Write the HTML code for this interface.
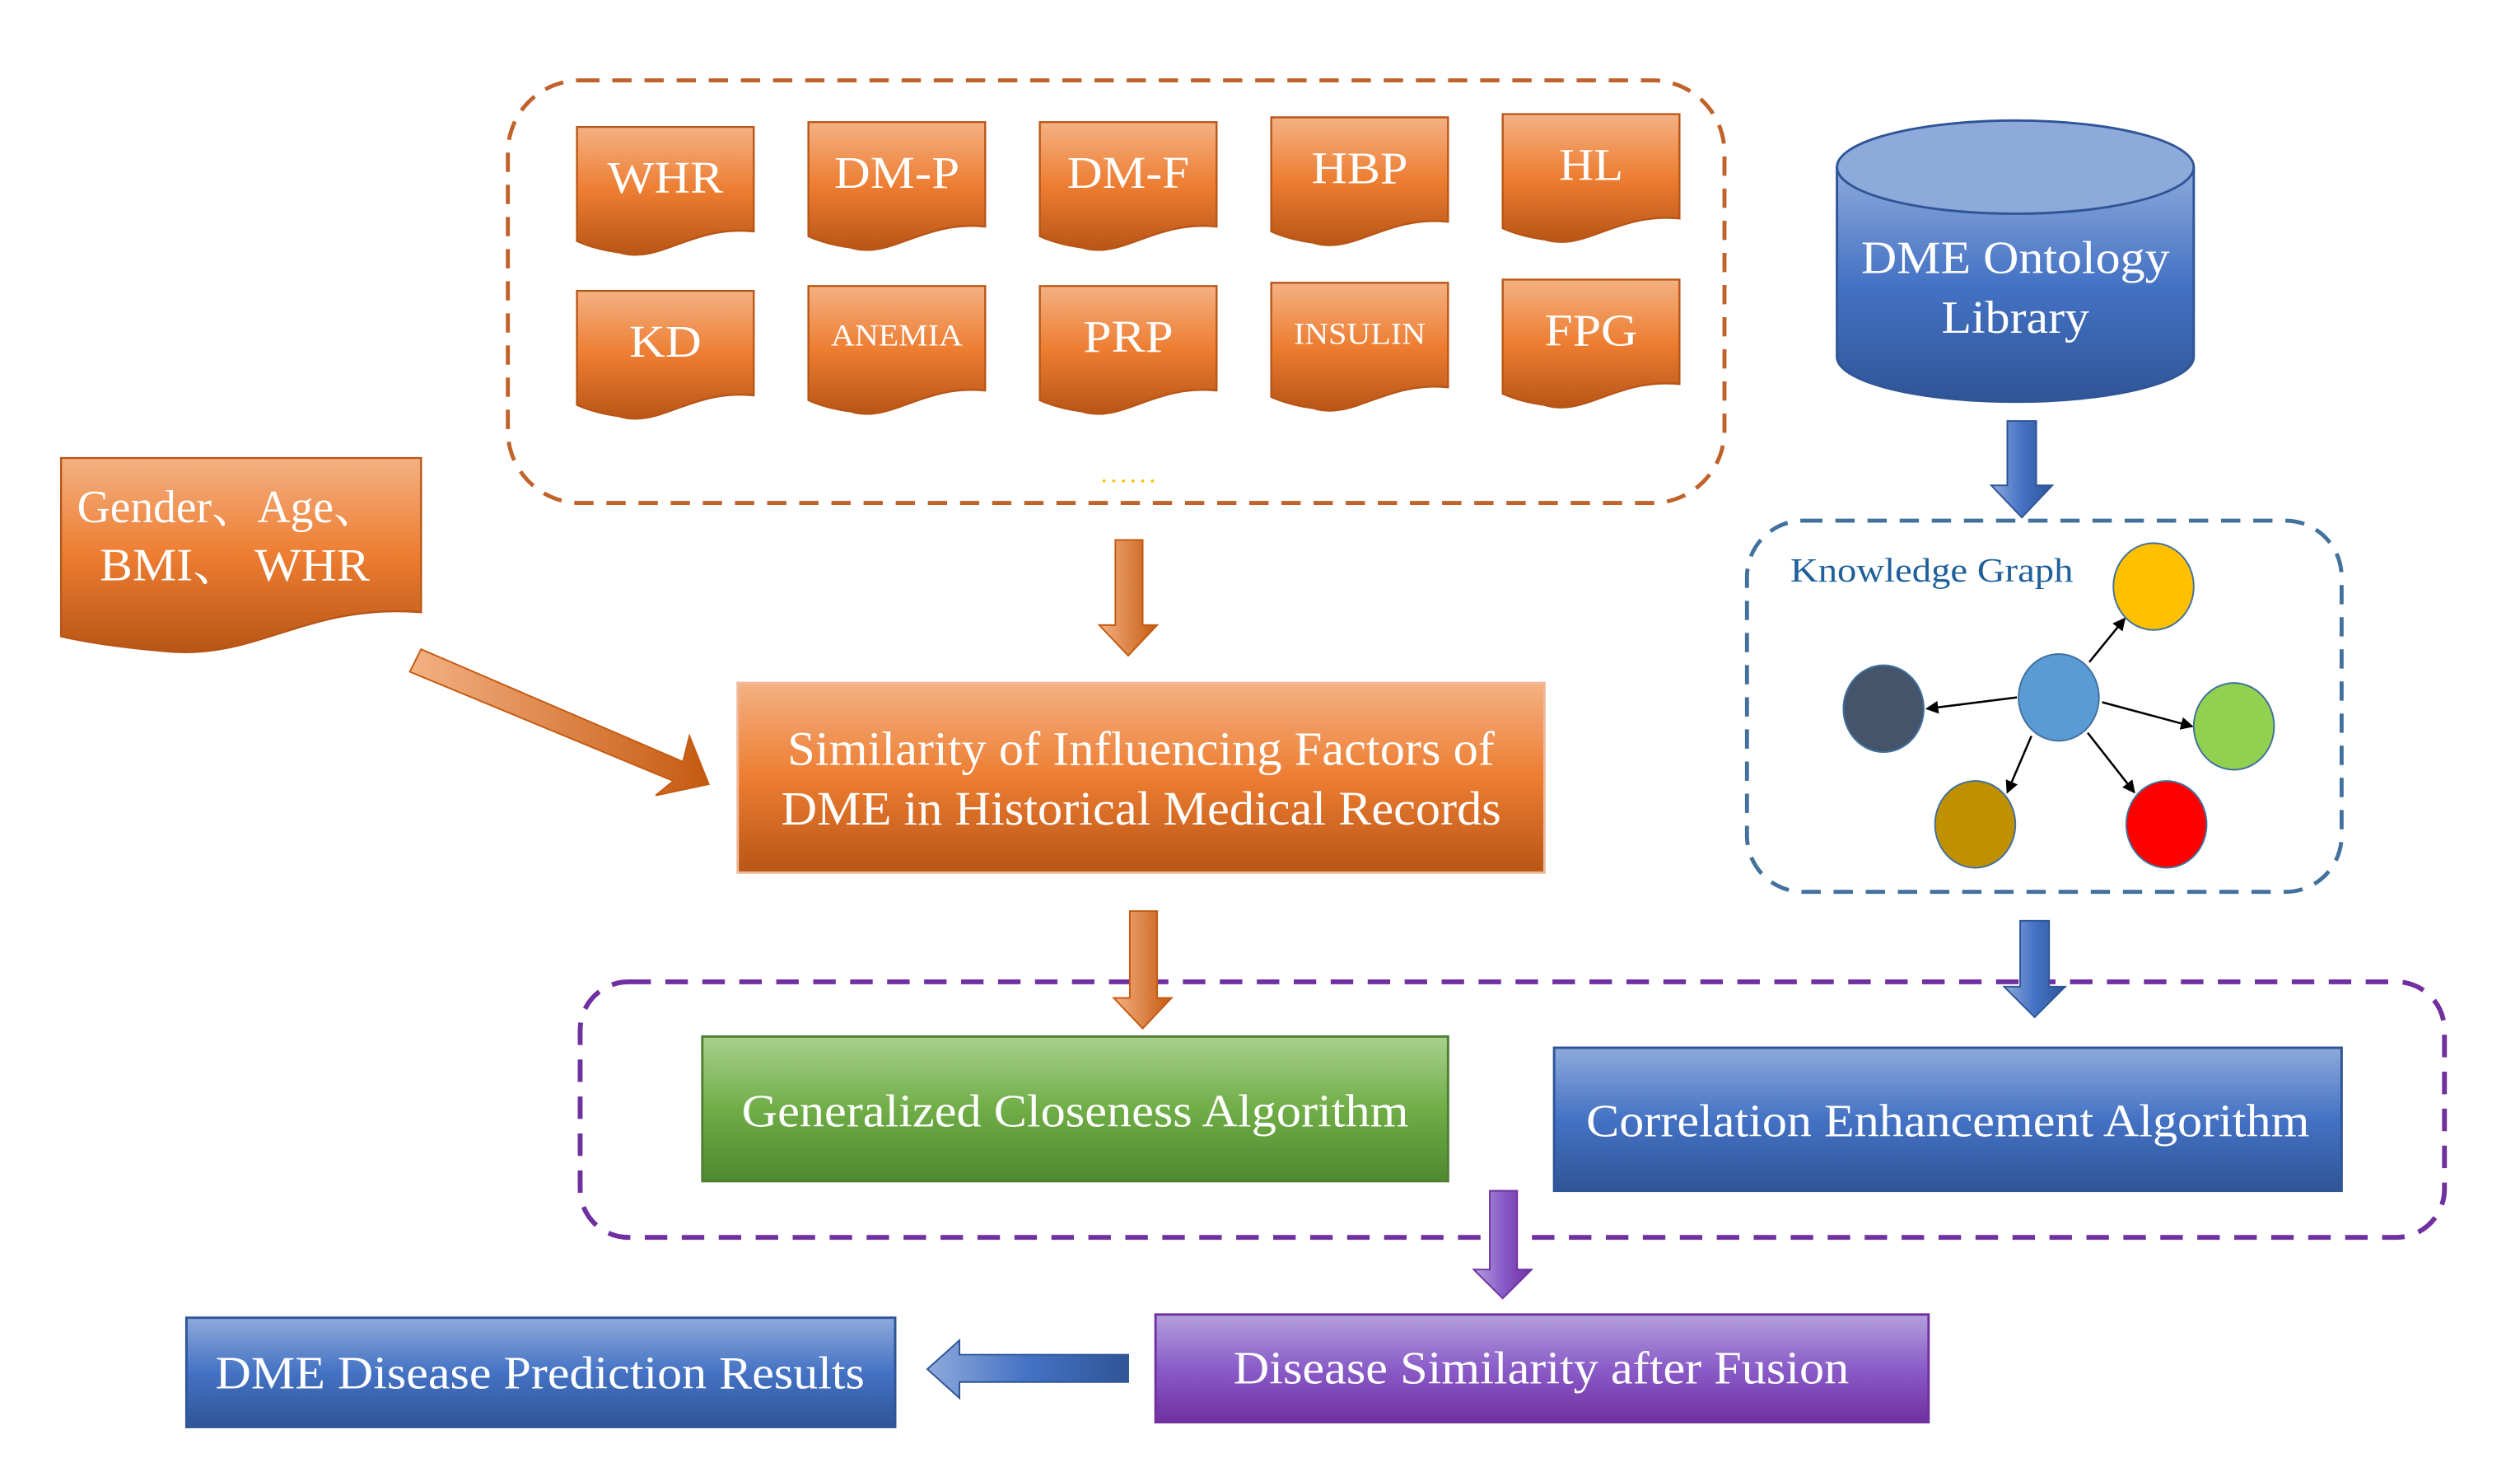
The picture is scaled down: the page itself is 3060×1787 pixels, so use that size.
<!DOCTYPE html>
<html><head><meta charset="utf-8"><style>html,body{margin:0;padding:0;background:#fff}svg{display:block}svg text{font-family:"Liberation Serif","Times New Roman",Tinos,"DejaVu Serif","Noto Serif CJK SC",serif}</style></head>
<body>
<svg width="3060" height="1787" viewBox="0 0 1568 916" preserveAspectRatio="none" xmlns="http://www.w3.org/2000/svg">
<defs>
<linearGradient id="og" x1="0" y1="0" x2="0" y2="1"><stop offset="0" stop-color="#f4b183"/><stop offset="0.5" stop-color="#ed7d31"/><stop offset="1" stop-color="#b85516"/></linearGradient>
<linearGradient id="bg" x1="0" y1="0" x2="0" y2="1"><stop offset="0" stop-color="#8eaadb"/><stop offset="0.5" stop-color="#4472c4"/><stop offset="1" stop-color="#2f5597"/></linearGradient>
<linearGradient id="gg" x1="0" y1="0" x2="0" y2="1"><stop offset="0" stop-color="#a9d18e"/><stop offset="0.5" stop-color="#70ad47"/><stop offset="1" stop-color="#4e8a2e"/></linearGradient>
<linearGradient id="pg" x1="0" y1="0" x2="0" y2="1"><stop offset="0" stop-color="#b4a0dc"/><stop offset="0.5" stop-color="#8a5cc8"/><stop offset="1" stop-color="#7030a0"/></linearGradient>
<linearGradient id="ohg" x1="0" y1="0" x2="1" y2="0"><stop offset="0" stop-color="#f4b183"/><stop offset="1" stop-color="#c55a11"/></linearGradient>
<linearGradient id="bhg" x1="0" y1="0" x2="1" y2="0"><stop offset="0" stop-color="#8eaadb"/><stop offset="0.5" stop-color="#4472c4"/><stop offset="1" stop-color="#2f5597"/></linearGradient>
<linearGradient id="phg" x1="0" y1="0" x2="1" y2="0"><stop offset="0" stop-color="#b4a0dc"/><stop offset="0.5" stop-color="#8a5cc8"/><stop offset="1" stop-color="#7030a0"/></linearGradient>
<marker id="ah" markerWidth="8" markerHeight="8" refX="7" refY="4" orient="auto" markerUnits="userSpaceOnUse"><path d="M0,0 L8,4 L0,8 z" fill="#000"/></marker>
</defs>

<rect x="316" y="50" width="757" height="263" rx="45" fill="none" stroke="#c0622a" stroke-width="2.5" stroke-dasharray="12,8"/>
<rect x="1087" y="324" width="370" height="231" rx="35" fill="none" stroke="#41719c" stroke-width="2.5" stroke-dasharray="12,8"/>
<rect x="361" y="611" width="1160" height="159" rx="30" fill="none" stroke="#7030a0" stroke-width="3" stroke-dasharray="14,9"/>

<g stroke="#b85516" stroke-width="1.2" fill="url(#og)">
<path d="M359,79 H469 V144 C430,140 410,165 385,157 Q370,155 359,150 Z"/>
<path d="M503,76 H613 V141 C574,137 554,162 529,154 Q514,152 503,147 Z"/>
<path d="M647,76 H757 V141 C718,137 698,162 673,154 Q658,152 647,147 Z"/>
<path d="M791,73 H901 V138 C862,134 842,159 817,151 Q802,149 791,144 Z"/>
<path d="M935,71 H1045 V136 C1006,132 986,157 961,149 Q946,147 935,142 Z"/>
<path d="M359,181 H469 V246 C430,242 410,267 385,259 Q370,257 359,252 Z"/>
<path d="M503,178 H613 V243 C574,239 554,264 529,256 Q514,254 503,249 Z"/>
<path d="M647,178 H757 V243 C718,239 698,264 673,256 Q658,254 647,249 Z"/>
<path d="M791,176 H901 V241 C862,237 842,262 817,254 Q802,252 791,247 Z"/>
<path d="M935,174 H1045 V239 C1006,235 986,260 961,252 Q946,250 935,245 Z"/>
<path d="M38,285 H262 V381 C190,375 160,412 100,405 Q65,402 38,396 Z"/>
</g>
<g fill="#fff" text-anchor="middle" font-size="28" lengthAdjust="spacingAndGlyphs">
<text x="414" y="120" textLength="72" lengthAdjust="spacingAndGlyphs">WHR</text>
<text x="558" y="117" textLength="78" lengthAdjust="spacingAndGlyphs">DM-P</text>
<text x="702" y="117" textLength="76" lengthAdjust="spacingAndGlyphs">DM-F</text>
<text x="846" y="114" textLength="60" lengthAdjust="spacingAndGlyphs">HBP</text>
<text x="990" y="112" textLength="40" lengthAdjust="spacingAndGlyphs">HL</text>
<text x="414" y="222" textLength="45" lengthAdjust="spacingAndGlyphs">KD</text>
<text x="558" y="215" font-size="19" textLength="82" lengthAdjust="spacingAndGlyphs">ANEMIA</text>
<text x="702" y="219" textLength="56" lengthAdjust="spacingAndGlyphs">PRP</text>
<text x="846" y="214" font-size="19" textLength="82" lengthAdjust="spacingAndGlyphs">INSULIN</text>
<text x="990" y="215" textLength="58" lengthAdjust="spacingAndGlyphs">FPG</text>
<text x="142" y="325" font-size="29" textLength="188" lengthAdjust="spacingAndGlyphs">Gender、Age、</text>
<text x="146" y="361" font-size="29" textLength="168" lengthAdjust="spacingAndGlyphs">BMI、 WHR</text>
</g>
<text x="703" y="300" fill="#ffc000" font-size="16" text-anchor="middle" letter-spacing="2">......</text>

<path d="M1143,104 V222 A111,28 0 0 0 1365,222 V104" fill="url(#bg)" stroke="#2f5597" stroke-width="1.5"/>
<ellipse cx="1254" cy="104" rx="111" ry="29" fill="#8eaadb" stroke="#2f5597" stroke-width="1.5"/>
<text x="1254" y="170" fill="#fff" font-size="29" text-anchor="middle" textLength="192" lengthAdjust="spacingAndGlyphs">DME Ontology</text>
<text x="1254" y="207" fill="#fff" font-size="29" text-anchor="middle" textLength="92" lengthAdjust="spacingAndGlyphs">Library</text>

<text x="1114" y="362" fill="#1f5f9a" font-size="21" textLength="176" lengthAdjust="spacingAndGlyphs">Knowledge Graph</text>
<g stroke="#000" stroke-width="1.3" marker-end="url(#ah)">
<line x1="1300" y1="412" x2="1322" y2="385"/>
<line x1="1255" y1="434" x2="1199" y2="441"/>
<line x1="1308" y1="437" x2="1364" y2="452"/>
<line x1="1264" y1="458" x2="1249" y2="493"/>
<line x1="1299" y1="456" x2="1328" y2="493"/>
</g>
<g stroke="#41719c" stroke-width="1">
<ellipse cx="1340" cy="365" rx="25" ry="27" fill="#ffc000"/>
<ellipse cx="1172" cy="441" rx="25" ry="27" fill="#44546a"/>
<ellipse cx="1281" cy="434" rx="25" ry="27" fill="#5b9bd5"/>
<ellipse cx="1390" cy="452" rx="25" ry="27" fill="#92d050"/>
<ellipse cx="1229" cy="513" rx="25" ry="27" fill="#bf9000"/>
<ellipse cx="1348" cy="513" rx="25" ry="27" fill="#ff0000"/>
</g>

<path d="M1249,262 H1267 V302 H1277 L1258,322 L1239,302 H1249 Z" fill="url(#bhg)" stroke="#2f5597" stroke-width="1"/>
<path d="M694,336 H711 V389 H720 L702,408 L684,389 H694 Z" fill="url(#ohg)" stroke="#c55a11" stroke-width="1"/>
<path d="M703,567 H720 V621 H729 L711,640 L693,621 H703 Z" fill="url(#ohg)" stroke="#c55a11" stroke-width="1"/>
<path d="M1257,573 H1275 V614 H1285 L1266,633 L1247,614 H1257 Z" fill="url(#bhg)" stroke="#2f5597" stroke-width="1"/>
<path d="M927,741 H944 V790 H953 L935,808 L917,790 H927 Z" fill="url(#phg)" stroke="#7030a0" stroke-width="1"/>
<path d="M702,843 V860 H597 V870 L577,852 L597,834 V843 Z" fill="url(#bhg)" stroke="#2f5597" stroke-width="1"/>
<path d="M262,404 L425,474 L429,458 L441,488 L408,495 L419,486 L255,418 Z" fill="url(#ohg)" stroke="#c55a11" stroke-width="1"/>

<rect x="459" y="425" width="502" height="118" fill="url(#og)" stroke="#f0b89a" stroke-width="1.5"/>
<text x="710" y="476" fill="#fff" font-size="30" text-anchor="middle" textLength="440" lengthAdjust="spacingAndGlyphs">Similarity of Influencing Factors of</text>
<text x="710" y="513" fill="#fff" font-size="30" text-anchor="middle" textLength="448" lengthAdjust="spacingAndGlyphs">DME in Historical Medical Records</text>
<rect x="437" y="645" width="464" height="90" fill="url(#gg)" stroke="#507e32" stroke-width="1.5"/>
<text x="669" y="701" fill="#fff" font-size="29" text-anchor="middle" textLength="415" lengthAdjust="spacingAndGlyphs">Generalized Closeness Algorithm</text>
<rect x="967" y="652" width="490" height="89" fill="url(#bg)" stroke="#2f5597" stroke-width="1.5"/>
<text x="1212" y="707" fill="#fff" font-size="29" text-anchor="middle" textLength="450" lengthAdjust="spacingAndGlyphs">Correlation Enhancement Algorithm</text>
<rect x="719" y="818" width="481" height="67" fill="url(#pg)" stroke="#7030a0" stroke-width="1.5"/>
<text x="959" y="861" fill="#fff" font-size="29" text-anchor="middle" textLength="383" lengthAdjust="spacingAndGlyphs">Disease Similarity after Fusion</text>
<rect x="116" y="820" width="441" height="68" fill="url(#bg)" stroke="#2f5597" stroke-width="1.5"/>
<text x="336" y="864" fill="#fff" font-size="29" text-anchor="middle" textLength="404" lengthAdjust="spacingAndGlyphs">DME Disease Prediction Results</text>
</svg>
</body></html>
